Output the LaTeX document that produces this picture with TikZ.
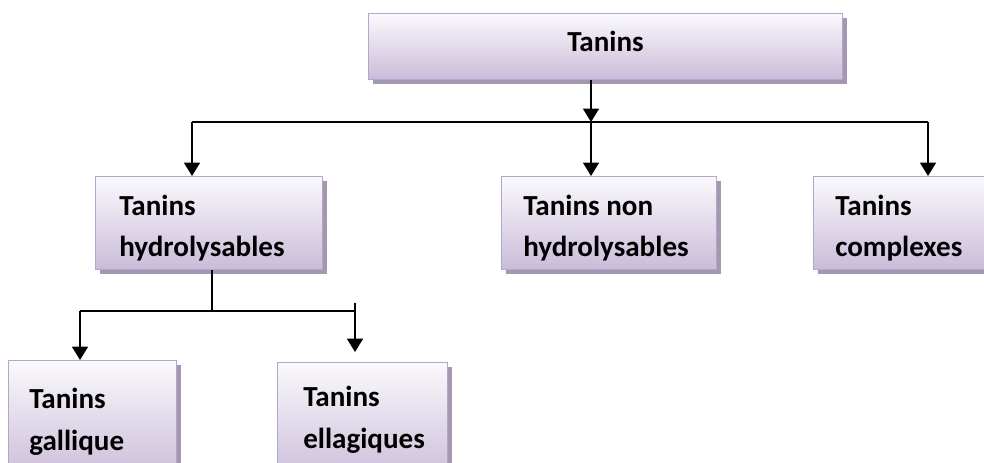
\documentclass[tikz,border=0pt]{standalone}
\usepackage{fontspec}
\setmainfont{Carlito}
\usetikzlibrary{arrows.meta,shadows,calc}
\definecolor{boxedge}{HTML}{B3A6CB}
\definecolor{boxtop}{HTML}{FAF9FC}
\definecolor{boxbot}{HTML}{CABCD9}
\definecolor{shadowc}{HTML}{A497B0}
\begin{document}
\begin{tikzpicture}[x=0.75pt,y=-0.75pt,
  box/.style={draw=boxedge, line width=1.1pt, top color=boxtop, bottom color=boxbot,
    drop shadow={shadow xshift=3pt,shadow yshift=-3pt,fill=shadowc,opacity=1},
    inner sep=0pt, anchor=north west},
  lbl/.style={font=\fontsize{21.8}{31.5}\selectfont\bfseries, align=left, inner sep=0pt, anchor=base west},
  arr/.style={line width=1pt, -{Triangle[width=12pt,length=10pt]}},
  ln/.style={line width=1pt}]
\useasboundingbox (0,0) rectangle (984,463);
\clip (0,0) rectangle (984,463);
% boxes
\node[box, minimum width=355.5pt, minimum height=49.5pt] (top) at (368,13) {};
\node[box, minimum width=170.25pt, minimum height=69.75pt] (hyd) at (95,176) {};
\node[box, minimum width=161.25pt, minimum height=69.75pt] (nonhyd) at (501,176) {};
\node[box, minimum width=150pt, minimum height=69.75pt] (comp) at (813,176) {};
\node[box, minimum width=126pt, minimum height=90pt] (gal) at (8,360) {};
\node[box, minimum width=127.5pt, minimum height=90pt] (ell) at (277,362) {};
% texts (anchor = baseline of last line)
\node[lbl] (ttop) at (567,52) {Tanins};
\node[lbl] (thyd) at (119,257) {Tanins\\hydrolysables};
\node[lbl] (tnonhyd) at (523,257) {Tanins non\\hydrolysables};
\node[lbl] (tcomp) at (835,257) {Tanins\\complexes};
\node[lbl] (tgal) at (29,450) {Tanins\\gallique};
\node[lbl] (tell) at (303,448) {Tanins\\ellagiques};
% connectors
\coordinate (j) at (591,122);
\coordinate (jl) at (192,122);
\coordinate (jr) at (928,122);
\draw[arr] (top.south -| j) -- (j);
\draw[arr] (j) -- (nonhyd.north -| j);
\draw[ln] (jl) -- (jr);
\draw[arr] (jl) -- (hyd.north -| jl);
\draw[arr] (jr) -- (comp.north -| jr);
\coordinate (k) at (212,311);
\coordinate (kl) at (80,311);
\coordinate (kr) at (355,311);
\coordinate (krtop) at (355,303);
\draw[ln] (hyd.south -| k) -- (k);
\draw[ln] (kl) -- (kr);
\draw[arr] (kl) -- (gal.north -| kl);
\draw[arr] (krtop) -- ($(ell.north -| kr)+(0,-10)$);
\end{tikzpicture}
\end{document}
